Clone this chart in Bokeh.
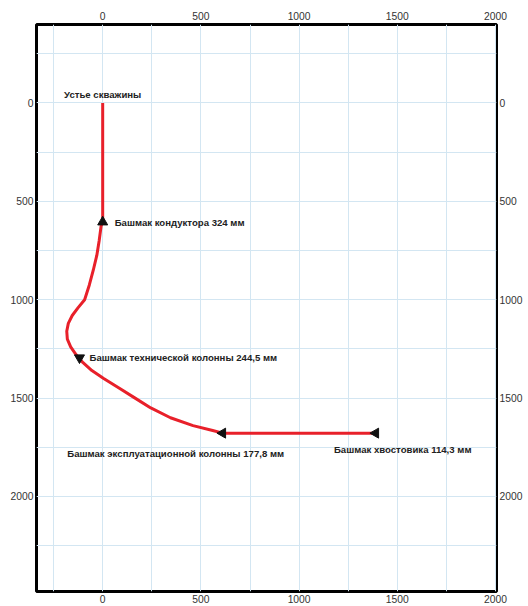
import numpy as np
from bokeh.plotting import figure
from bokeh.models import Range1d, LinearAxis, FixedTicker
from bokeh.core.properties import value
from bokeh.embed import file_html
from bokeh.resources import INLINE

# ---- data ----
traj_x = [0, 0, -8, -18, -30, -48, -68, -92, -125, -155, -175, -183, -180, -163, -135, -100,
          -55, 5, 85, 165, 245, 345, 460, 560, 611, 1390]
traj_depth = [0, 600, 625, 700, 775, 850, 925, 1000, 1040, 1080, 1120, 1160, 1200, 1240, 1280, 1320,
              1360, 1400, 1450, 1500, 1550, 1600, 1640, 1665, 1678, 1678]

wellhead_x = [0]
wellhead_depth = [0]
wellhead_label = ["Устье скважины"]

shoe_names = ["Башмак кондуктора 324 мм",
              "Башмак технической колонны 244,5 мм",
              "Башмак эксплуатационной колонны 177,8 мм",
              "Башмак хвостовика 114,3 мм"]
shoe_x = [0, -118, 611, 1390]
shoe_depth = [605, 1295, 1678, 1678]

axis_ticks = [0, 500, 1000, 1500, 2000]
grid_ticks = [-250, 0, 250, 500, 750, 1000, 1250, 1500, 1750, 2000, 2250]

# ---- figure ----
p = figure(width=528, height=606,
           x_range=Range1d(-337, 2005), y_range=Range1d(2483, -399),
           output_backend="svg", toolbar_location=None,
           x_axis_location="above",
           min_border_left=36, min_border_right=32,
           min_border_top=24, min_border_bottom=15)

p.add_layout(LinearAxis(), "below")
p.add_layout(LinearAxis(), "right")

for ax in p.axis:
    ax.ticker = FixedTicker(ticks=axis_ticks)
    ax.axis_line_color = None
    ax.major_tick_line_color = None
    ax.minor_tick_line_color = None
    ax.major_tick_out = 0
    ax.major_tick_in = 0
    ax.major_label_text_font = "Liberation Sans"
    ax.major_label_text_font_size = "10.3px"
    ax.major_label_text_color = "#333333"
    ax.major_label_standoff = 3
p.above[0].major_label_standoff = 5
p.below[0].major_label_standoff = 3

p.xgrid.ticker = FixedTicker(ticks=grid_ticks)
p.ygrid.ticker = FixedTicker(ticks=grid_ticks)
for g in (p.xgrid, p.ygrid):
    g.grid_line_color = "#d3e6f2"
    g.grid_line_width = 1

p.outline_line_color = "black"
p.outline_line_width = 3
p.background_fill_color = "white"
p.border_fill_color = "white"

# trajectory
p.line(traj_x, traj_depth, line_color="#e8202a", line_width=3, line_join="round")

# shoe markers
p.scatter([shoe_x[0]], [shoe_depth[0]], marker="triangle", size=10, color="#111111")
p.scatter([shoe_x[1]], [shoe_depth[1]], marker="inverted_triangle", size=10, color="#111111")
p.scatter(shoe_x[2:], shoe_depth[2:], marker="triangle", angle=np.pi / 2, size=10, color="#111111")

font = value("Liberation Sans")
common = dict(text_font=font, text_font_size="9.6px", text_font_style="bold", text_color="#222222")

p.text(wellhead_x, wellhead_depth, text=wellhead_label, text_align="center",
       text_baseline="bottom", y_offset=-3, **common)
p.text([shoe_x[0]], [shoe_depth[0]], text=[shoe_names[0]], text_align="left",
       text_baseline="middle", x_offset=12, **common)
p.text([shoe_x[1]], [shoe_depth[1]], text=[shoe_names[1]], text_align="left",
       text_baseline="middle", x_offset=10, **common)
p.text([shoe_x[2]], [shoe_depth[2]], text=[shoe_names[2]], text_align="center",
       text_baseline="middle", x_offset=-47, y_offset=20, **common)
p.text([shoe_x[3]], [shoe_depth[3]], text=[shoe_names[3]], text_align="center",
       text_baseline="middle", x_offset=27, y_offset=16, **common)

open("out.html", "w").write(file_html(p, INLINE))
